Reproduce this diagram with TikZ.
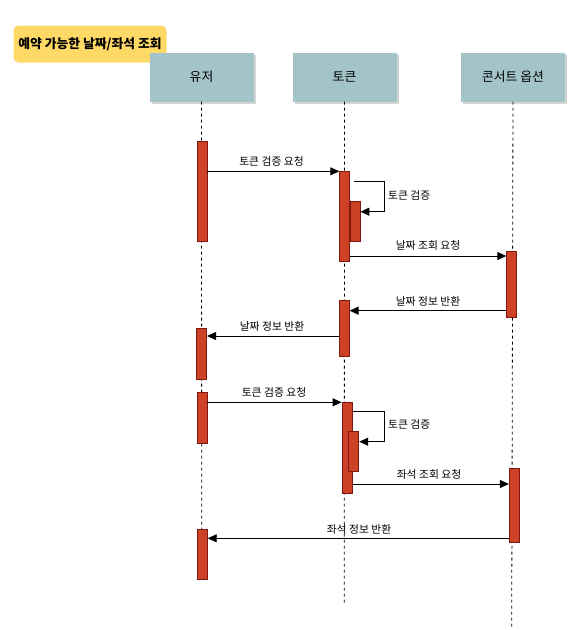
\documentclass[tikz,border=0pt]{standalone}
\usepackage{fontspec}
\setmainfont{Noto Sans CJK KR}
\usetikzlibrary{arrows.meta,shadows}
\definecolor{barfill}{RGB}{205,65,38}
\definecolor{barline}{RGB}{130,25,15}
\definecolor{actorfill}{RGB}{162,196,201}
\definecolor{titlefill}{RGB}{255,217,102}
\tikzset{
  actor/.style={fill=actorfill, minimum width=104pt, minimum height=49pt, inner sep=0pt,
    font=\fontsize{12.8}{14}\selectfont,
    drop shadow={opacity=0.35, shadow xshift=2pt, shadow yshift=-2pt}},
  bar/.style={fill=barfill, draw=barline, line width=0.8pt, inner sep=0pt, minimum width=10pt},
  life/.style={dashed, dash pattern=on 3pt off 3pt, line width=0.8pt},
  msg/.style={line width=0.9pt, -{Triangle[length=9pt,width=8pt]}},
  lbl/.style={font=\fontsize{10.8}{12}\selectfont, inner sep=0pt},
}
\begin{document}
\begin{tikzpicture}[x=1pt,y=-1pt]
\useasboundingbox (0,0) rectangle (583,630);
% title
\node[fill=titlefill, rounded corners=5pt, minimum width=153pt, minimum height=37pt, inner sep=0pt,
  font=\bfseries\fontsize{12.8}{14}\selectfont] (title) at (90,44) {예약 가능한 날짜/좌석 조회};
% actors
\node[actor] (user) at (201.5,77) {유저};
\node[actor] (token) at (344.5,77) {토큰};
\node[actor] (concert) at (513,77) {콘서트 옵션};
% lifelines
\coordinate (uend) at (201.7,529);
\coordinate (tend) at (344.3,605);
\coordinate (cend) at (511.7,628);
\draw[life] (user.south) -- (uend);
\draw[life] (token.south) -- (tend);
\draw[life] (concert.south) -- (cend);
% activation bars
\node[bar, minimum height=100pt] (u1) at (202,191.7) {};
\node[bar, minimum height=51pt] (u2) at (201.7,353.5) {};
\node[bar, minimum height=50.6pt] (u3) at (202,418) {};
\node[bar, minimum height=50pt] (u4) at (202.3,554) {};
\node[bar, minimum height=90pt] (t1) at (344.7,216.7) {};
\node[bar, minimum height=40pt] (t1n) at (355,221.7) {};
\node[bar, minimum height=56pt] (t2) at (344.2,328) {};
\node[bar, minimum height=90.6pt] (t3) at (347,448) {};
\node[bar, minimum height=40pt] (t3n) at (353.8,451.7) {};
\node[bar, minimum height=66.7pt] (c1) at (511.7,284.3) {};
\node[bar, minimum height=74pt] (c2) at (514.3,505.3) {};
% coordinates for messages
\coordinate (s1a) at (354,181.7);
\coordinate (s1b) at (384.3,181.7);
\coordinate (s1c) at (384.3,211.7);
\coordinate (s2a) at (353.3,411.7);
\coordinate (s2b) at (384,411.7);
\coordinate (s2c) at (384,441.7);
% messages
\draw[msg] (u1.east |- t1.north) -- (t1.north west);
\node[lbl] (l1) at (271.5,161) {토큰 검증 요청};
\draw[line width=0.9pt] (s1a) -- (s1b) -- (s1c);
\draw[msg] (s1c) -- (t1n.east |- s1c);
\node[lbl, anchor=west] (l2) at (388,195) {토큰 검증};
\draw[msg] (t1.east |- 0,256) -- (c1.west |- 0,256);
\node[lbl] (l3) at (428,245.5) {날짜 조회 요청};
\draw[msg] (c1.west |- 0,310.7) -- (t2.east |- 0,310.7);
\node[lbl] (l4) at (428,301) {날짜 정보 반환};
\draw[msg] (t2.west |- 0,336) -- (u2.east |- 0,336);
\node[lbl] (l5) at (272,326) {날짜 정보 반환};
\draw[msg] (u3.east |- t3.north) -- (t3.north west);
\node[lbl] (l6) at (274,392.5) {토큰 검증 요청};
\draw[line width=0.9pt] (s2a) -- (s2b) -- (s2c);
\draw[msg] (s2c) -- (t3n.east |- s2c);
\node[lbl, anchor=west] (l7) at (388,424) {토큰 검증};
\draw[msg] (t3.east |- 0,484) -- (c2.west |- 0,484);
\node[lbl] (l8) at (429,474) {좌석 조회 요청};
\draw[msg] (c2.west |- 0,538.3) -- (u4.east |- 0,538.3);
\node[lbl] (l9) at (359,529) {좌석 정보 반환};
\end{tikzpicture}
\end{document}
